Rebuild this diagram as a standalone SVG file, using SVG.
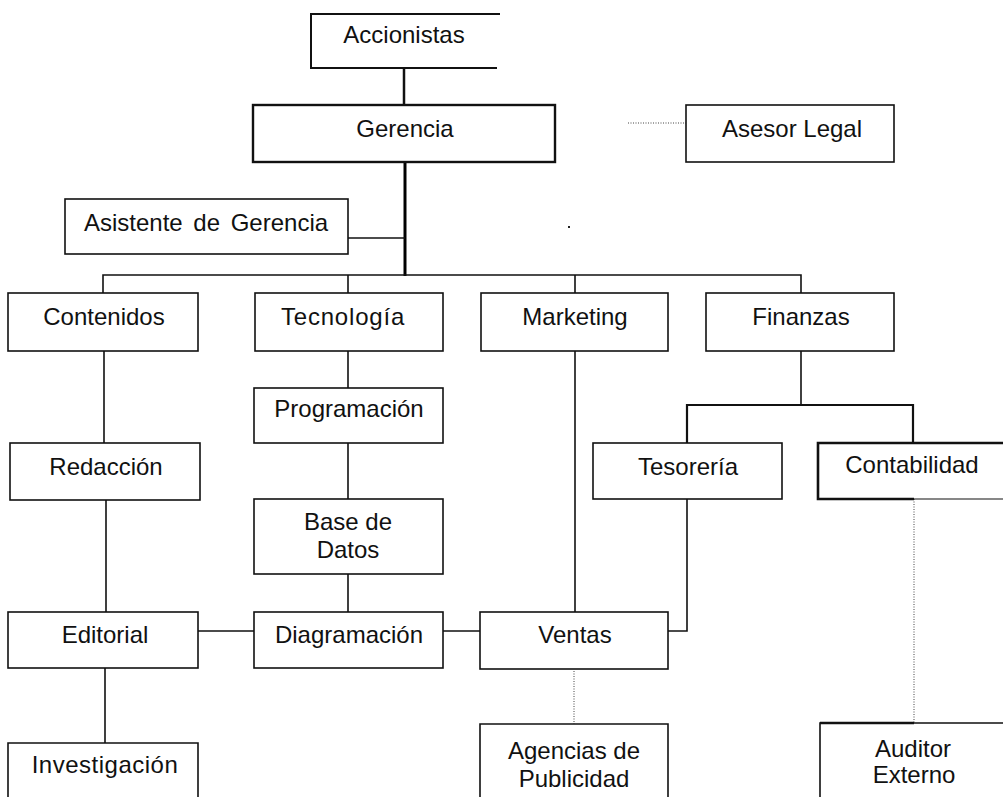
<svg xmlns="http://www.w3.org/2000/svg" width="1003" height="797" viewBox="0 0 1003 797">
<style>
  .box{fill:#fff;stroke:#111;stroke-width:1.6}
  .open{fill:none;stroke:#111;stroke-width:1.6}
  .t{font-family:"Liberation Sans",Arial,sans-serif;font-size:24px;fill:#111;text-anchor:middle}
  .ln{fill:none;stroke:#111;stroke-width:1.6}
  .thick{fill:none;stroke:#000;stroke-width:3}
  .dot{fill:none;stroke:#444;stroke-width:1;stroke-dasharray:1 1.5}
</style>
<rect width="1003" height="797" fill="#fff"/>
<g id="connectors">
  <path class="ln" d="M404 68 V105" style="stroke-width:2.5"/>
  <path class="thick" d="M405 162 V276"/>
  <path class="dot" d="M628 123 H686"/>
  <path class="ln" d="M348 238 H405"/>
  <path class="ln" d="M103 293 V275 H801 V293 M348 275 V293 M575 275 V293"/>
  <path class="ln" d="M104 351 V443 M106 500 V612 M105 668 V743"/>
  <path class="ln" d="M348 351 V388 M348 443 V499 M348 574 V612"/>
  <path class="ln" d="M198 631 H254 M443 631 H480"/>
  <path class="ln" d="M575 351 V612"/>
  <path class="ln" d="M668 631 H687 V499"/>
  <path class="ln" d="M801 351 V405" />
  <path class="ln" d="M687 443 V405 H913 V443" style="stroke-width:2.2"/>
  <path class="dot" d="M574 671 V724"/>
  <path class="dot" d="M914 499 V723"/>
</g>
<g id="accionistas">
  <path class="open" d="M500 14 H311 V68 H497" style="stroke-width:2"/>
  <text class="t" x="404" y="43">Accionistas</text>
</g>
<g id="gerencia">
  <rect class="box" x="253" y="105" width="302" height="57" style="stroke-width:2.4"/>
  <text class="t" x="405" y="137">Gerencia</text>
</g>
<g id="asesor-legal">
  <rect class="box" x="686" y="105" width="208" height="57"/>
  <text class="t" x="792" y="137">Asesor Legal</text>
</g>
<g id="asistente">
  <rect class="box" x="65" y="199" width="283" height="55"/>
  <text class="t" x="206" y="231" word-spacing="4">Asistente de Gerencia</text>
</g>
<g id="contenidos">
  <rect class="box" x="8" y="293" width="190" height="58"/>
  <text class="t" x="104" y="325">Contenidos</text>
</g>
<g id="tecnologia">
  <rect class="box" x="255" y="293" width="188" height="58"/>
  <text class="t" x="343" y="325" letter-spacing="0.8">Tecnología</text>
</g>
<g id="marketing">
  <rect class="box" x="481" y="293" width="187" height="58"/>
  <text class="t" x="575" y="325">Marketing</text>
</g>
<g id="finanzas">
  <rect class="box" x="706" y="293" width="188" height="58"/>
  <text class="t" x="801" y="325">Finanzas</text>
</g>
<g id="programacion">
  <rect class="box" x="254" y="388" width="189" height="55"/>
  <text class="t" x="349" y="417">Programación</text>
</g>
<g id="redaccion">
  <rect class="box" x="10" y="443" width="190" height="57"/>
  <text class="t" x="106" y="475">Redacción</text>
</g>
<g id="tesoreria">
  <rect class="box" x="593" y="443" width="189" height="56"/>
  <text class="t" x="688" y="475">Tesorería</text>
</g>
<g id="contabilidad">
  <path class="open" d="M1003 443 H818 V499 H914" style="stroke-width:2.6"/>
  <path class="open" d="M914 499 H1003" style="stroke-width:1.2"/>
  <text class="t" x="912" y="473">Contabilidad</text>
</g>
<g id="base-de-datos">
  <rect class="box" x="254" y="499" width="189" height="75"/>
  <text class="t" x="348" y="530">Base de</text>
  <text class="t" x="348" y="558">Datos</text>
</g>
<g id="editorial">
  <rect class="box" x="8" y="612" width="190" height="56"/>
  <text class="t" x="105" y="643">Editorial</text>
</g>
<g id="diagramacion">
  <rect class="box" x="254" y="612" width="189" height="56"/>
  <text class="t" x="349" y="643">Diagramación</text>
</g>
<g id="ventas">
  <rect class="box" x="480" y="612" width="188" height="57"/>
  <text class="t" x="575" y="643">Ventas</text>
</g>
<g id="investigacion">
  <path class="open" d="M8 800 V743 H198 V800"/>
  <text class="t" x="105" y="773" letter-spacing="0.5">Investigación</text>
</g>
<g id="agencias">
  <path class="open" d="M480 800 V724 H668 V800"/>
  <text class="t" x="574" y="759">Agencias de</text>
  <text class="t" x="574" y="787">Publicidad</text>
</g>
<g id="auditor">
  <path class="open" d="M820 800 V723 H1003"/>
  <path class="open" d="M820 723 H914" style="stroke-width:2.6"/>
  <text class="t" x="913" y="757">Auditor</text>
  <text class="t" x="914" y="783">Externo</text>
</g>
<rect x="568" y="226" width="2" height="2" fill="#222"/>
</svg>
